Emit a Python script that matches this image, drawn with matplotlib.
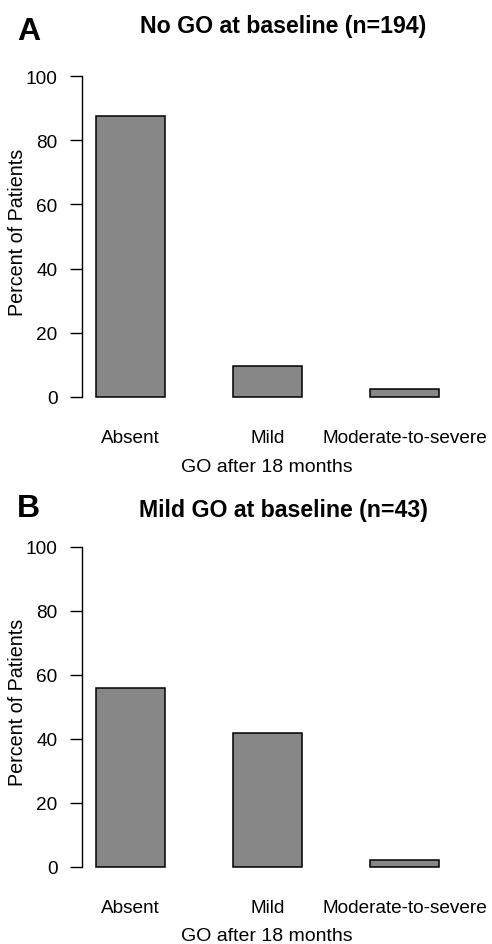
import numpy as np
import matplotlib.pyplot as plt

categories = ['Absent', 'Mild', 'Moderate-to-severe']
pct_no_go = [87.6, 9.8, 2.6]      # 170, 19, 5 of 194
pct_mild_go = [55.8, 41.9, 2.3]   # 24, 18, 1 of 43
titles = ['No GO at baseline (n=194)', 'Mild GO at baseline (n=43)']
panel_tags = ['A', 'B']

plt.rcParams['font.family'] = ['Liberation Sans', 'DejaVu Sans']

W, H = 492, 945
fig = plt.figure(figsize=(W / 100, H / 100), dpi=100)

# pixel positions of y=100 and y=0 for each panel, and title / tag centres
panels = [(77, 398), (548, 868)]
title_y = [26, 511]
tag_y = [32, 509]
x_left, x_right = 82, 492
xlim = (-0.354, (x_right - 130.5) / 137)

for i, (vals, title, tag) in enumerate(zip([pct_no_go, pct_mild_go], titles, panel_tags)):
    top, bot = panels[i]
    ax = fig.add_axes([x_left / W, 1 - bot / H, (x_right - x_left) / W, (bot - top) / H])
    x = np.arange(len(categories))
    ax.bar(x, vals, width=0.505, color='#878787', edgecolor='black', linewidth=1.1, clip_on=False)
    ax.set_xlim(*xlim)
    ax.set_ylim(0, 100)
    ax.set_yticks([0, 20, 40, 60, 80, 100])
    ax.tick_params(axis='y', labelsize=13.7, length=8.6, width=1.0, pad=9)
    ax.set_xticks(x)
    ax.set_xticklabels(categories)
    ax.tick_params(axis='x', labelsize=13.7, length=0, pad=23)
    for s in ['top', 'right', 'bottom']:
        ax.spines[s].set_visible(False)
    ax.spines['left'].set_linewidth(1.0)
    ax.patch.set_alpha(0)

    fig.text(17.5 / W, 1 - ((top + bot) / 2 - 5.5) / H, 'Percent of Patients', rotation=90,
             ha='center', va='center', fontsize=14.2)
    fig.text(267 / W, 1 - (bot + 73.5) / H, 'GO after 18 months', ha='center', va='baseline',
             fontsize=14)
    fig.text(283 / W, 1 - title_y[i] / H, title, ha='center', va='center',
             fontsize=16.7, fontweight='bold')
    fig.text(17 / W, 1 - tag_y[i] / H, tag, ha='left', va='center',
             fontsize=23, fontweight='bold')

plt.savefig('out.png', dpi=100)
